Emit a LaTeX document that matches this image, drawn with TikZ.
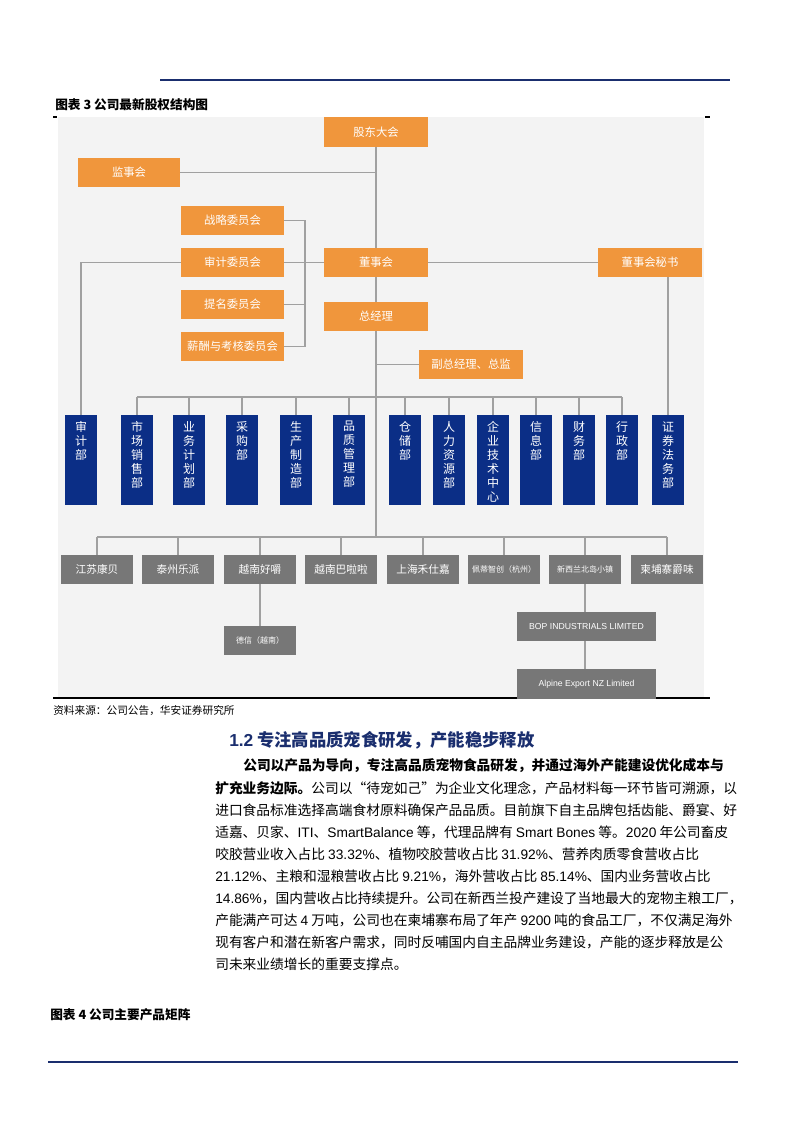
\documentclass[tikz,border=0pt]{standalone}
\usepackage{fontspec}
\setmainfont{Noto Sans CJK SC}
\newfontfamily\lat{Liberation Sans}
\definecolor{org}{HTML}{F0963C}
\definecolor{nav}{HTML}{0B2E86}
\definecolor{gbox}{HTML}{777777}
\definecolor{panel}{HTML}{F3F3F3}
\definecolor{ln}{HTML}{A0A0A0}
\definecolor{head}{HTML}{1A2E6E}
\begin{document}
\begin{tikzpicture}[x=0.75pt,y=-0.75pt,
  obox/.style={fill=org,draw=none,text=white,inner sep=0,minimum width=78pt,minimum height=22pt,font=\fontsize{8.5}{10}\selectfont},
  cbox/.style={obox,minimum width=77pt},
  bbox/.style={fill=nav,draw=none,inner sep=0,minimum width=24pt,minimum height=67.5pt,anchor=north},
  btxt/.style={text=white,inner sep=0,anchor=north,font=\fontsize{9}{10.5}\selectfont,align=center},
  gb/.style={fill=gbox,draw=none,text=white,inner sep=0,minimum width=54pt,minimum height=22pt,font=\fontsize{8}{10}\selectfont},
  wb/.style={gb,minimum width=104pt,font=\lat\fontsize{6.5}{8}\selectfont},
  cn/.style={draw=ln,line width=0.8pt},
  body/.style={anchor=west,inner sep=0,font=\fontsize{10.3}{12}\selectfont}]
\useasboundingbox (0,0) rectangle (793,1122);
\draw[head,line width=1pt] (160,80) -- (730,80);
\node[anchor=west,inner sep=0,font=\bfseries\fontsize{9.5}{11}\selectfont] (cap) at (55,105) {图表 3 公司最新股权结构图};
\fill[panel] (58,117) rectangle (704,698);
\draw[line width=0.8pt] (53,117) -- (57,117) (705,117) -- (710,117);
\draw[line width=0.8pt] (53,698) -- (710,698);
\node[anchor=west,inner sep=0,font=\fontsize{8}{9}\selectfont] (src) at (53,711) {资料来源：公司公告，华安证券研究所};
% orange
\node[obox] (gd) at (376,132) {股东大会};
\node[obox,minimum width=76.5pt] (js) at (129,172.5) {监事会};
\node[cbox] (zl) at (232.5,220.5) {战略委员会};
\node[cbox] (sj) at (232.5,262.5) {审计委员会};
\node[cbox] (tm) at (232.5,304.5) {提名委员会};
\node[cbox] (xc) at (232.5,346.5) {薪酬与考核委员会};
\node[obox] (ds) at (376,262.5) {董事会};
\node[obox] (ms) at (650,262.5) {董事会秘书};
\node[obox] (zj) at (376,316.5) {总经理};
\node[obox] (fz) at (471,364.5) {副总经理、总监};
% blue
\foreach \n/\x/\t in {b1/81/审\\计\\部,b2/137/市\\场\\销\\售\\部,b3/189/业\\务\\计\\划\\部,b4/242/采\\购\\部,b5/296/生\\产\\制\\造\\部,b6/349/品\\质\\管\\理\\部,b7/405/仓\\储\\部,b8/449/人\\力\\资\\源\\部,b9/493/企\\业\\技\\术\\中\\心,b10/536/信\\息\\部,b11/579/财\\务\\部,b12/622/行\\政\\部,b13/668/证\\券\\法\\务\\部}{
  \node[bbox] (\n) at (\x,415) {};
  \node[btxt] (\n t) at (\x,421) {\t};}
% gray
\foreach \n/\x/\t in {g1/97/江苏康贝,g2/178/泰州乐派,g3/260/越南好嚼,g4/341/越南巴啦啦,g5/423/上海禾仕嘉,g6/504/{\fontsize{6}{8}\selectfont 佩蒂智创（杭州）},g7/585/{\fontsize{6}{8}\selectfont 新西兰北岛小镇},g8/667/柬埔寨爵味}
  \node[gb] (\n) at (\x,569.5) {\t};
\node[gb,font=\fontsize{6}{8}\selectfont] (dx) at (260,640.5) {德信（越南）};
\node[wb] (bop) at (586.5,626.5) {BOP INDUSTRIALS LIMITED};
\node[wb] (alp) at (586.5,684) {Alpine Export NZ Limited};
% connectors
\coordinate (m1) at (376,172.5);
\coordinate (br) at (305,262.5);
\coordinate (bus1) at (376,397);
\coordinate (bus2) at (376,537);
\draw[cn] (gd.south) -- (ds.north);
\draw[cn] (js.east) -- (m1);
\draw[cn] (zl.east) -| (br) |- (xc.east);
\draw[cn] (tm.east) -- (tm.east -| br);
\draw[cn] (sj.east) -- (ds.west);
\draw[cn] (ds.east) -- (ms.west);
\draw[cn] (ds.south) -- (zj.north);
\draw[cn] (zj.south) -- (bus2);
\draw[cn] (fz.west) -- (fz.west -| zj);
\draw[cn] (sj.west) -| (b1.north);
\draw[cn] (b13.north |- ms.south) -- (b13.north);
\draw[cn] (b2.north |- bus1) -- (b12.north |- bus1);
\foreach \n in {b2,b3,b4,b5,b6,b7,b8,b9,b10,b11,b12} \draw[cn] (\n.north |- bus1) -- (\n.north);
\draw[cn] (g1.north |- bus2) -- (g8.north |- bus2);
\foreach \n in {g1,g2,g3,g4,g5,g6,g7,g8} \draw[cn] (\n.north |- bus2) -- (\n.north);
\draw[cn] (g3.south) -- (dx.north);
\draw[cn] (g7.south) -- (g7.south |- bop.north);
\draw[cn] (g7.south |- bop.south) -- (g7.south |- alp.north);
% text
\node[anchor=west,inner sep=0,text=head,font=\bfseries\fontsize{13}{15}\selectfont] (h12) at (229,740) {{\lat 1.2} 专注高品质宠食研发，产能稳步释放};
\node[body] (l1) at (243,766) {\bfseries 公司以产品为导向，专注高品质宠物食品研发，并通过海外产能建设优化成本与};
\node[body] (l2) at (215,788) {{\bfseries 扩充业务边际。}公司以“待宠如己”为企业文化理念，产品材料每一环节皆可溯源，以};
\node[body] (l3) at (215,810) {进口食品标准选择高端食材原料确保产品品质。目前旗下自主品牌包括齿能、爵宴、好};
\node[body] (l4) at (215,832) {适嘉、贝家、{\lat ITI}、{\lat SmartBalance} 等，代理品牌有 {\lat Smart Bones} 等。{\lat 2020} 年公司畜皮};
\node[body] (l5) at (215,854) {咬胶营业收入占比 {\lat 33.32\%}、植物咬胶营收占比 {\lat 31.92\%}、营养肉质零食营收占比};
\node[body] (l6) at (215,876) {{\lat 21.12\%}、主粮和湿粮营收占比 {\lat 9.21\%}，海外营收占比 {\lat 85.14\%}、国内业务营收占比};
\node[body] (l7) at (215,898) {{\lat 14.86\%}，国内营收占比持续提升。公司在新西兰投产建设了当地最大的宠物主粮工厂，};
\node[body] (l8) at (215,920) {产能满产可达 {\lat 4} 万吨，公司也在柬埔寨布局了年产 {\lat 9200} 吨的食品工厂，不仅满足海外};
\node[body] (l9) at (215,942) {现有客户和潜在新客户需求，同时反哺国内自主品牌业务建设，产能的逐步释放是公};
\node[body] (l10) at (215,964) {司未来业绩增长的重要支撑点。};
\node[anchor=west,inner sep=0,font=\bfseries\fontsize{9.5}{11}\selectfont] (cap4) at (50,1015) {图表 4 公司主要产品矩阵};
\draw[head,line width=1pt] (48,1062) -- (738,1062);
\end{tikzpicture}
\end{document}
